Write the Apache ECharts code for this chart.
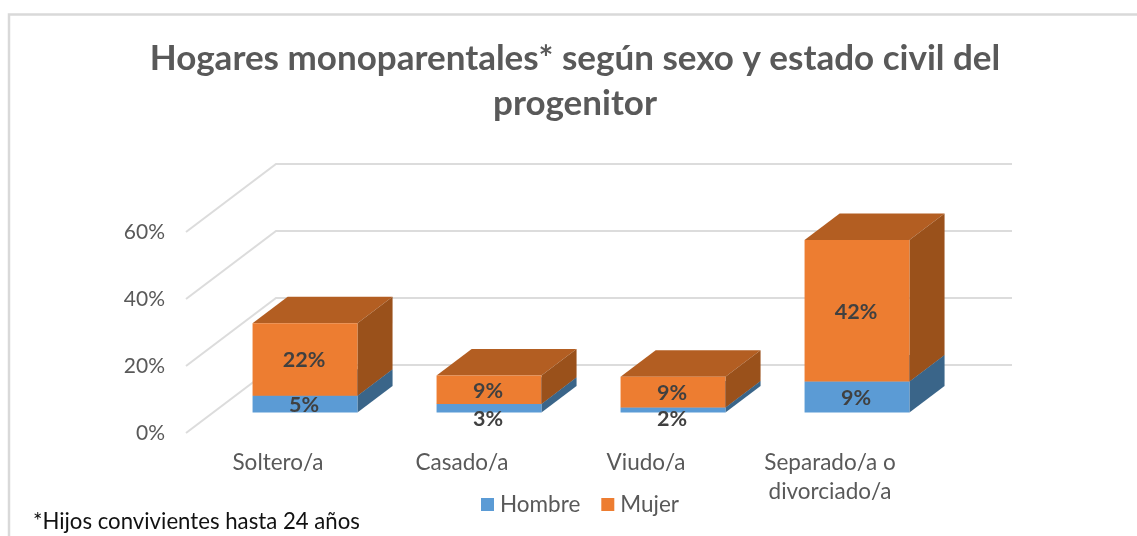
<!DOCTYPE html>
<html><head><meta charset="utf-8">
<style>html,body{margin:0;padding:0;background:#fff}#c{width:1137px;height:536px}</style>
<script src="https://cdn.jsdelivr.net/npm/echarts@6/dist/echarts.min.js"></script>
</head><body><div id="c"></div>
<script>
const categories = ['Soltero/a', 'Casado/a', 'Viudo/a', 'Separado/a o\ndivorciado/a'];
const hombre = [5.0, 2.6, 1.5, 9.3];
const mujer = [21.7, 8.5, 9.2, 42.2];
const ticks = [0, 20, 40, 60];

const FONT = 'Lato';
const DX = 90, DY = -68, NEAR = 0.30, FAR = 0.69, WIDTH = 0.57;
const pt = (p, f) => [p[0] + DX * f, p[1] + DY * f];
const poly = (points, fill) => ({ type: 'polygon', shape: { points }, style: { fill } });

function bar(colors, baseOf) {
  return (params, api) => {
    const i = api.value(0), v = api.value(1), base = baseOf[i];
    const w = api.size([1, 0])[0] * WIDTH;
    const b = api.coord([i, base]), t = api.coord([i, base + v]);
    const xl = b[0] - w / 2, xr = b[0] + w / 2;
    const fbl = pt([xl, b[1]], NEAR), fbr = pt([xr, b[1]], NEAR),
          ftl = pt([xl, t[1]], NEAR), ftr = pt([xr, t[1]], NEAR),
          bbr = pt([xr, b[1]], FAR), btr = pt([xr, t[1]], FAR), btl = pt([xl, t[1]], FAR);
    const h = fbl[1] - ftl[1];
    const small = h < 12;
    const ly = small ? fbl[1] + 6 : (fbl[1] + ftl[1]) / 2 + 1;
    return { type: 'group', children: [
      poly([ftl, btl, btr, ftr], colors.top),
      poly([fbr, bbr, btr, ftr], colors.side),
      poly([fbl, fbr, ftr, ftl], colors.front),
      { type: 'text', z2: 10, style: { text: Math.round(v) + '%', x: (xl + xr) / 2 + DX * NEAR - 1, y: ly,
        align: 'center', verticalAlign: 'middle', fontFamily: FONT, fontWeight: 'bold', fontSize: 21.5, fill: '#404040' } }
    ] };
  };
}

const zeros = categories.map(() => 0);
const gridColor = '#dcdcdc';
function walls(params, api) {
  const v = api.value(0);
  const cs = params.coordSys;
  const y = api.coord([0, v])[1];
  const l = [cs.x, y], r = [cs.x + cs.width, y];
  return { type: 'polyline', shape: { points: [l, pt(l, 1), pt(r, 1)] },
    style: { stroke: gridColor, lineWidth: 2, fill: null } };
}

const chart = echarts.init(document.getElementById('c'), null, { renderer: 'canvas' });
chart.setOption({
  animation: false,
  backgroundColor: '#fff',
  title: { text: 'Hogares monoparentales* según sexo y estado civil del\nprogenitor',
    left: 570, top: 31, textAlign: 'center',
    textStyle: { fontFamily: FONT, fontWeight: 'bold', fontSize: 35, color: '#595959', lineHeight: 45 } },
  legend: { left: 476, top: 488, itemWidth: 13, itemHeight: 13, itemGap: 21, icon: 'rect',
    data: ['Hombre', 'Mujer'],
    textStyle: { fontFamily: FONT, fontSize: 22.5, color: '#595959', padding: [0, 0, 0, 1] } },
  grid: { left: 186, top: 232, width: 736, height: 201 },
  xAxis: { type: 'category', data: categories,
    axisLine: { show: false }, axisTick: { show: false }, splitLine: { show: false },
    axisLabel: { fontFamily: FONT, fontSize: 22.5, color: '#595959', margin: 15, lineHeight: 29, interval: 0 } },
  yAxis: { type: 'value', min: 0, max: 60, interval: 20,
    axisLine: { show: false }, axisTick: { show: false }, splitLine: { show: false },
    axisLabel: { fontFamily: FONT, fontSize: 21, color: '#595959', margin: 21, formatter: '{value}%', padding: [0, 0, 3, 0] } },
  series: [
    { name: 'grid', type: 'custom', renderItem: walls, data: ticks.map(t => [t]), encode: { y: 0 }, silent: true, z: 1 },
    { name: 'Hombre', type: 'custom', itemStyle: { color: '#5b9bd5' }, z: 2,
      renderItem: bar({ front: '#5b9bd5', side: '#3a6589', top: '#4a80b0' }, zeros),
      data: hombre.map((v, i) => [i, v]), encode: { x: 0, y: 1 } },
    { name: 'Mujer', type: 'custom', itemStyle: { color: '#ed7d31' }, z: 3,
      renderItem: bar({ front: '#ed7d31', side: '#9a511b', top: '#b35e22' }, hombre),
      data: mujer.map((v, i) => [i, v]), encode: { x: 0, y: 1 } }
  ],
  graphic: [
    { type: 'polyline', silent: true, shape: { points: [[9, 536], [9, 14.5], [1137, 14.5]] },
      style: { stroke: '#d9d9d9', lineWidth: 2.5, fill: null } },
    { type: 'text', silent: true, left: 33, top: 511,
      style: { text: '*Hijos convivientes hasta 24 años', fontFamily: FONT, fontSize: 22.2, fill: '#111' } }
  ]
});
</script></body></html>
